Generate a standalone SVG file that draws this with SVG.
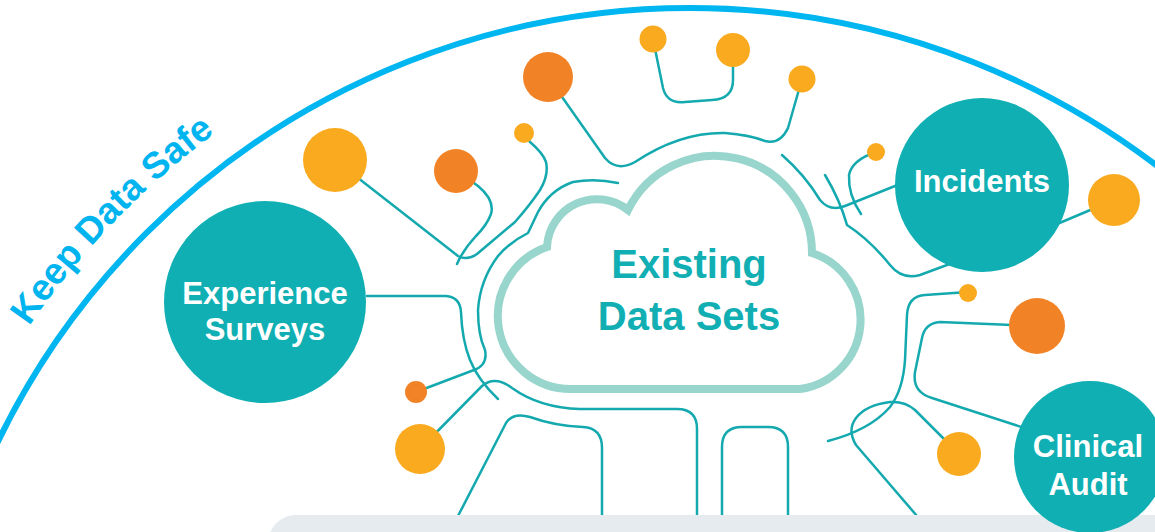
<svg xmlns="http://www.w3.org/2000/svg" width="1155" height="532" viewBox="0 0 1155 532">
<style>
.ln{fill:none;stroke:#14A9AF;stroke-width:2.5;stroke-linecap:round;stroke-linejoin:round}
.node{fill:#10AFB3}
.or{fill:#F28226}
.ye{fill:#F9AA1F}
.lbl{font-family:"Liberation Sans",Arial,sans-serif;font-weight:bold;font-size:31px;fill:#FFFFFF;text-anchor:middle}
.cl{font-family:"Liberation Sans",Arial,sans-serif;font-weight:bold;font-size:40px;fill:#11AFB3;text-anchor:middle}
.arcT{font-family:"Liberation Sans",Arial,sans-serif;font-weight:bold;font-size:37px;fill:#00B5EF}
</style>
<defs>
<path id="tp" d="M -2.8 377 A 800 800 0 0 1 551.1 -10.8"/>
</defs>
<rect width="1155" height="532" fill="#FFFFFF"/>
<g id="boundary">
<circle cx="690" cy="777" r="769" fill="none" stroke="#00B6F0" stroke-width="6"/>
<text class="arcT"><textPath href="#tp" startOffset="60">Keep Data Safe</textPath></text>
</g>
<g id="connectors">
<path class="ln" d="M 335 160 L 458 256 Q 467 261 477 254 L 515 222 Q 530 205 540 190 Q 549 175 546 162 Q 543 153 530 142 L 524 133"/>
<path class="ln" d="M 456 170 L 478 186 Q 495 200 491 214 Q 487 225 476 236 Q 463 250 457 264"/>
<path class="ln" d="M 618 183 Q 595 178 573 182 Q 550 190 538 212 L 528 233 Q 510 242 498 256 Q 480 280 478 310 Q 478 335 485 350 Q 488 365 474 370 L 416 392"/>
<path class="ln" d="M 367 296 L 446 296 Q 460 297 461 312 Q 462 340 470 360 Q 478 380 498 399"/>
<path class="ln" d="M 420 449 L 482 386 Q 495 375 512 388 Q 540 408 580 409 L 677 409 Q 697 409 697 429 L 697 516"/>
<path class="ln" d="M 458 516 L 506 423 Q 513 412 530 417 Q 555 426 583 427 Q 602 428 602 448 L 602 516"/>
<path class="ln" d="M 722 516 L 722 447 Q 722 427 742 427 L 768 427 Q 788 427 788 447 L 788 516"/>
<path class="ln" d="M 828 441 Q 870 430 890 407 Q 903 390 905 360 L 907 315 Q 908 296 925 295 L 968 292"/>
<path class="ln" d="M 917 516 L 856 445 Q 847 430 856 418 Q 866 405 890 402 Q 905 401 915 410 L 959 454"/>
<path class="ln" d="M 1037 326 L 940 322 Q 925 323 922 338 L 915 372 Q 912 392 932 398 L 1040 433"/>
<path class="ln" d="M 825 175 Q 840 200 847 225 Q 870 240 890 265 Q 902 280 920 275 L 955 262"/>
<path class="ln" d="M 782 155 Q 805 175 820 200 Q 830 212 845 206 L 910 180"/>
<path class="ln" d="M 876 152 Q 852 160 849 175 Q 848 195 861 214"/>
<path class="ln" d="M 1050 227 L 1114 200"/>
<path class="ln" d="M 548 77 L 605 158 Q 617 172 635 162 Q 680 132 725 133 Q 750 135 765 141 Q 780 145 788 128 L 802 79"/>
<path class="ln" d="M 653 39 L 663 88 Q 667 104 685 102 L 712 100 Q 733 99 733 80 L 733 50"/>
</g>
<rect x="268" y="515" width="1000" height="100" rx="28" fill="#E6EBEF"/>
<g id="cloud">
<path d="M 572 389 A 73 73 0 0 1 547 247 A 50 50 0 0 1 628 210 A 97 97 0 0 1 812 253 A 70 70 0 0 1 800 389 Z" fill="#FFFFFF" stroke="#98D5CC" stroke-width="8" stroke-linejoin="miter"/>
<text class="cl" x="689" y="278">Existing</text>
<text class="cl" x="689" y="330">Data Sets</text>
</g>
<g id="dot-y1"><circle class="ye" cx="335" cy="160" r="32"/></g>
<g id="dot-o1"><circle class="or" cx="456" cy="171" r="22"/></g>
<g id="dot-y2"><circle class="ye" cx="524" cy="133" r="10"/></g>
<g id="dot-o2"><circle class="or" cx="548" cy="77" r="25"/></g>
<g id="dot-y3"><circle class="ye" cx="653" cy="39" r="13.5"/></g>
<g id="dot-y4"><circle class="ye" cx="733" cy="50" r="17"/></g>
<g id="dot-y5"><circle class="ye" cx="802" cy="79" r="13.5"/></g>
<g id="dot-y6"><circle class="ye" cx="876" cy="152" r="9"/></g>
<g id="dot-y7"><circle class="ye" cx="1114" cy="200" r="26"/></g>
<g id="dot-y8"><circle class="ye" cx="968" cy="293" r="9"/></g>
<g id="dot-o3"><circle class="or" cx="1037" cy="326" r="28"/></g>
<g id="dot-y9"><circle class="ye" cx="959" cy="454" r="22"/></g>
<g id="dot-o4"><circle class="or" cx="416" cy="392" r="11"/></g>
<g id="dot-y10"><circle class="ye" cx="420" cy="449" r="25"/></g>
<g id="experience-surveys">
<circle class="node" cx="265" cy="302" r="101"/>
<text class="lbl" x="265" y="304">Experience</text>
<text class="lbl" x="265" y="340">Surveys</text>
</g>
<g id="incidents">
<circle class="node" cx="982" cy="185" r="87"/>
<text class="lbl" x="982" y="192">Incidents</text>
</g>
<g id="clinical-audit">
<circle class="node" cx="1090" cy="457" r="76"/>
<text class="lbl" x="1088" y="457">Clinical</text>
<text class="lbl" x="1088" y="495">Audit</text>
</g>
</svg>
